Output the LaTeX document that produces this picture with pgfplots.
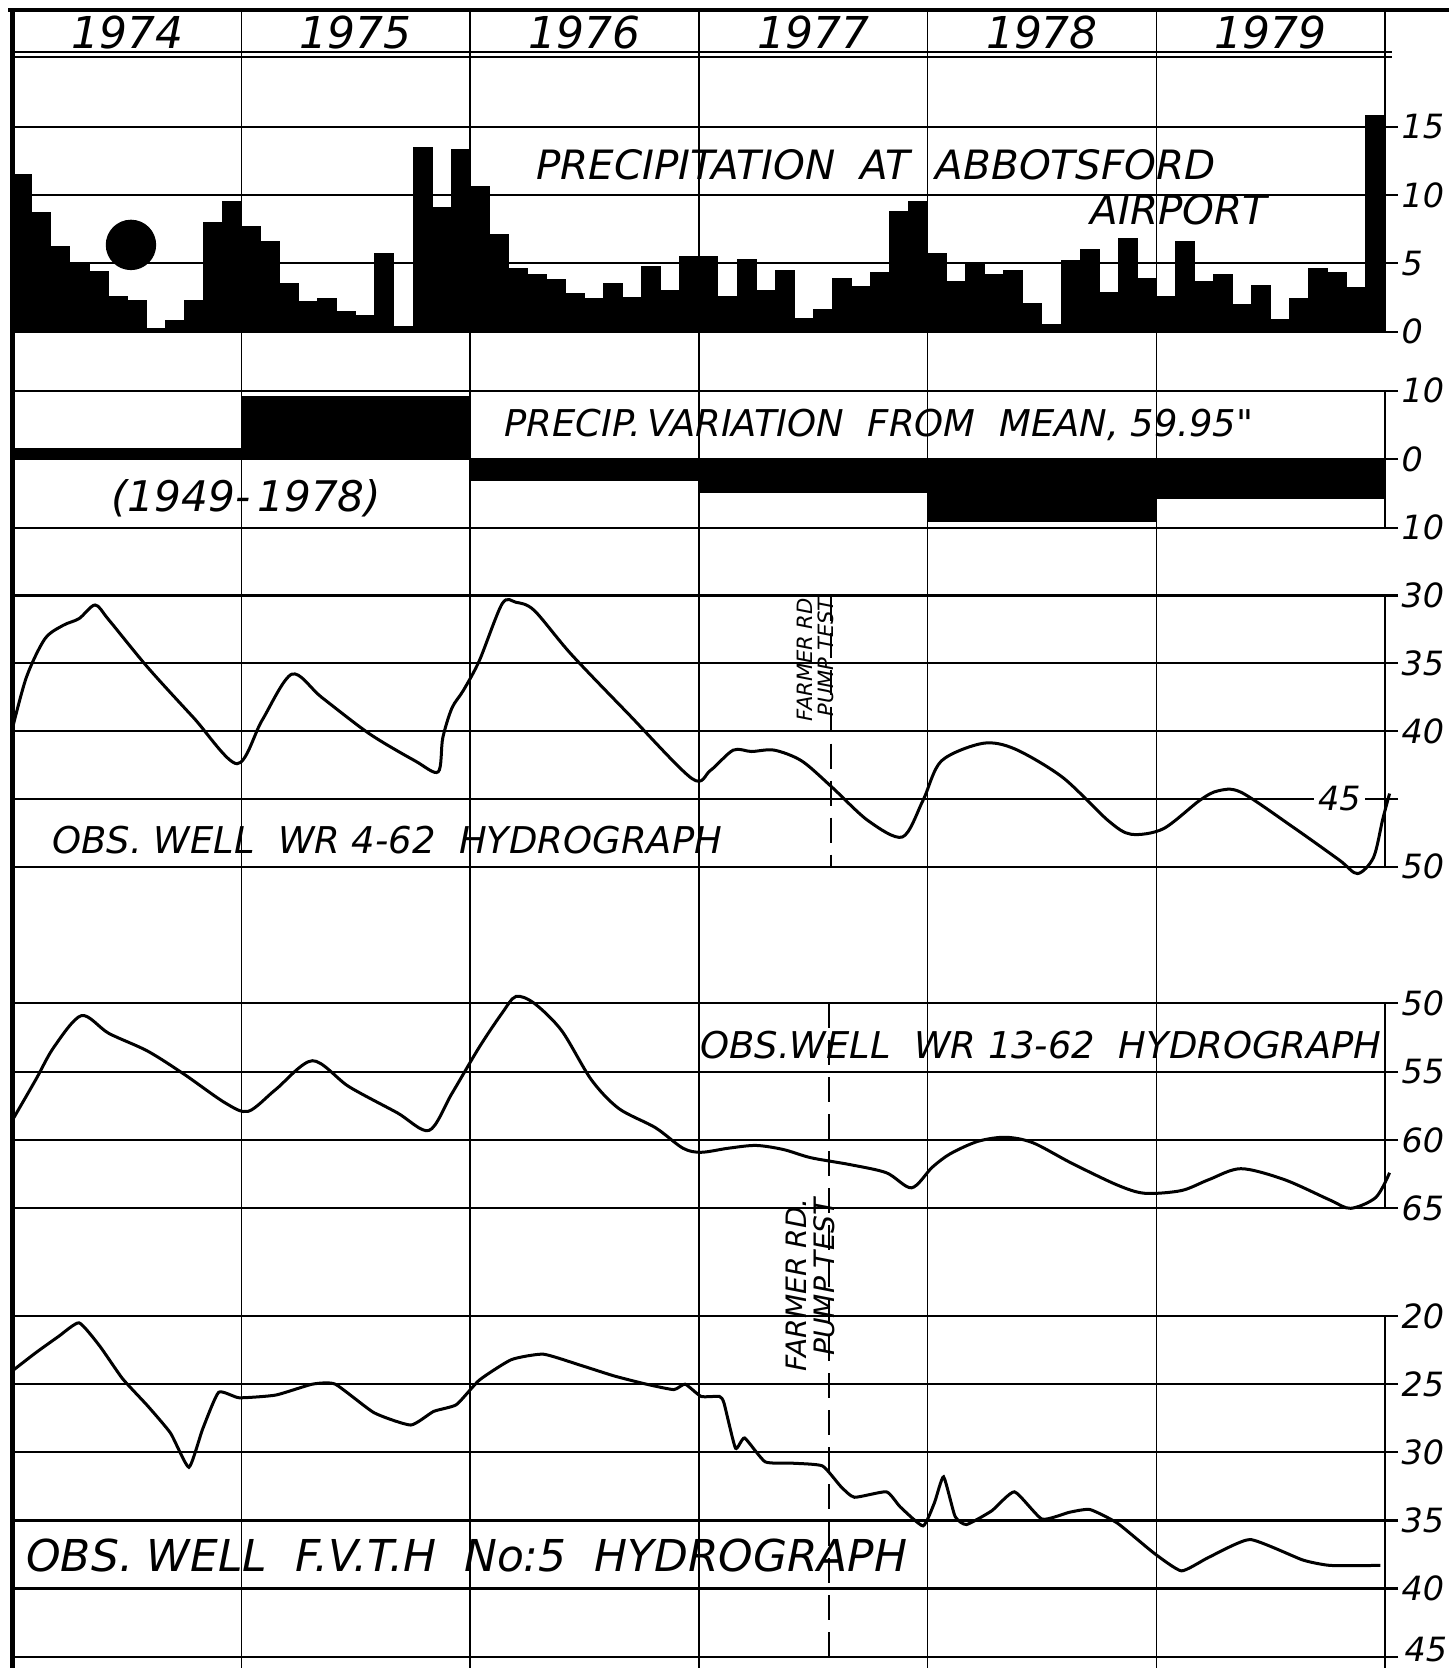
\documentclass[border=0pt]{standalone}
\usepackage{pgfplots}
\pgfplotsset{compat=1.18}
\usepackage{fontspec}
\newfontfamily\hand{DejaVu Sans}
\newcommand{\hf}[1]{\hand\itshape\fontsize{#1}{#1}\selectfont}
\newcommand{\tickfont}{\hand\itshape\fontsize{9.5}{9.5}\selectfont}
\begin{document}
\begin{tikzpicture}
\useasboundingbox (0,0) rectangle (144.9mm,-166.8mm);
\pgfplotsset{
  panel/.style={scale only axis, width=137.22mm, xmin=0, xmax=6,
    axis line style={draw=none}, xtick=\empty, ytick pos=right,
    tick align=outside, major tick length=1.3mm,
    every tick/.style={black, line width=0.22mm},
    ymajorgrids, grid style={black, line width=0.22mm},
    yticklabel style={font=\tickfont, inner sep=0.3mm},
    /pgf/number format/assume math mode=true,
    clip=false},
  curve/.style={black, line width=0.3mm, smooth, tension=0.5, mark=none},
}
% background: year verticals
\begin{axis}[scale only axis, width=137.22mm, height=165.95mm,
  at={(1.28mm,-0.85mm)}, anchor=north west,
  xmin=0, xmax=6, ymin=0, ymax=1, xtick={1,2,3,4,5}, xticklabels={},
  ytick=\empty, xmajorgrids, grid style={black, line width=0.16mm},
  major tick length=0, axis line style={draw=none}]
\addplot[draw=none] coordinates {(0,0)};
\end{axis}

% precipitation (monthly)
\begin{axis}[panel, xmin=0, xmax=72, height=20.505mm,
  at={(1.28mm,-33.17mm)}, anchor=south west,
  ymin=0, ymax=15, ytick={0,5,10,15}]
\addplot[ybar interval, fill=black, draw=black, line width=0.1mm] coordinates {
(0,11.5)(1,8.7)(2,6.2)(3,5.0)(4,4.4)(5,2.6)(6,2.25)(7,0.25)(8,0.85)(9,2.25)(10,8.0)(11,9.5)
(12,7.7)(13,6.6)(14,3.5)(15,2.2)(16,2.4)(17,1.5)(18,1.2)(19,5.7)(20,0.4)(21,13.5)(22,9.1)(23,13.3)
(24,10.6)(25,7.1)(26,4.6)(27,4.2)(28,3.8)(29,2.8)(30,2.4)(31,3.55)(32,2.5)(33,4.75)(34,3.0)(35,5.5)
(36,5.5)(37,2.6)(38,5.3)(39,3.0)(40,4.5)(41,1.0)(42,1.6)(43,3.9)(44,3.3)(45,4.35)(46,8.8)(47,9.5)
(48,5.7)(49,3.7)(50,5.0)(51,4.2)(52,4.5)(53,2.05)(54,0.5)(55,5.2)(56,6.0)(57,2.9)(58,6.8)(59,3.9)
(60,2.55)(61,6.6)(62,3.65)(63,4.2)(64,2.0)(65,3.4)(66,0.9)(67,2.4)(68,4.6)(69,4.3)(70,3.25)(71,15.8)
(72,15.8)};
\addplot[only marks, mark=*, mark size=2.45mm, black] coordinates {(6.2,6.35)};
\end{axis}

% variation from mean (yearly)
\begin{axis}[panel, height=13.70mm, at={(1.28mm,-39.06mm)}, anchor=north west,
  ymin=-10, ymax=10, ytick={-10,0,10}, yticklabels={10,0,10}]
\addplot[ybar interval, fill=black, draw=black, line width=0.1mm] coordinates {
(0,1.5)(1,9.1)(2,-3.1)(3,-4.85)(4,-9.1)(5,-5.7)(6,-5.7)};
\end{axis}

% WR 4-62
\begin{axis}[panel, height=27.13mm, at={(1.28mm,-59.55mm)}, anchor=north west,
  ymin=30, ymax=50, y dir=reverse, ytick={30,35,40,45,50}, yticklabels={30,35,40,,50}]
\addplot[curve] coordinates {
(0,39.7)(0.06,36.0)(0.14,33.2)(0.22,32.2)(0.29,31.7)(0.36,30.7)(0.42,31.8)(0.59,35.3)
(0.79,39.0)(0.98,42.4)(1.09,39.2)(1.22,35.8)(1.35,37.5)(1.56,40.2)(1.76,42.2)(1.86,43.0)
(1.88,40.5)(1.92,38.3)(1.97,37.0)(2.04,34.8)(2.14,30.6)(2.2,30.5)(2.28,31.1)(2.44,34.3)
(2.69,38.7)(2.97,43.5)(3.05,42.9)(3.15,41.4)(3.23,41.5)(3.33,41.4)(3.45,42.2)(3.58,44.1)
(3.74,46.6)(3.89,47.8)(3.98,45.1)(4.06,42.2)(4.24,40.9)(4.38,41.3)(4.59,43.4)(4.79,46.6)
(4.89,47.6)(5.03,47.2)(5.19,45.1)(5.27,44.4)(5.37,44.5)(5.60,47.1)(5.80,49.5)(5.88,50.5)
(5.95,49.3)(5.99,46.5)(6.02,44.6)};
\node[fill=white, inner sep=0.4mm, font=\tickfont] at (axis cs:5.8,45) {45};
\end{axis}

% WR 13-62
\begin{axis}[panel, height=20.5mm, at={(1.28mm,-100.33mm)}, anchor=north west,
  ymin=50, ymax=65, y dir=reverse, ytick={50,55,60,65}]
\addplot[curve] coordinates {
(0,58.5)(0.1,55.6)(0.18,53.2)(0.30,50.9)(0.42,52.2)(0.59,53.5)(0.75,55.2)(0.93,57.3)
(1.03,57.9)(1.15,56.3)(1.31,54.2)(1.47,56.1)(1.68,58.0)(1.82,59.3)(1.92,56.6)(2.04,53.2)
(2.14,50.7)(2.2,49.5)(2.28,50.0)(2.4,52.0)(2.53,55.6)(2.65,57.7)(2.81,59.1)(2.93,60.6)
(3.01,60.9)(3.13,60.6)(3.25,60.4)(3.37,60.7)(3.49,61.3)(3.66,61.8)(3.82,62.4)(3.93,63.5)
(4.02,62.0)(4.1,61.0)(4.22,60.1)(4.34,59.8)(4.46,60.2)(4.63,61.7)(4.83,63.3)(4.95,63.9)
(5.11,63.7)(5.23,62.9)(5.37,62.1)(5.56,62.9)(5.76,64.4)(5.85,65.0)(5.96,64.2)(6.02,62.4)};
\end{axis}

% F.V.T.H No 5
\begin{axis}[panel, height=34.07mm, at={(1.28mm,-131.6mm)}, anchor=north west,
  ymin=20, ymax=45, y dir=reverse, ytick={20,25,30,35,40,45},
  yticklabels={20,25,30,35,40,}]
\addplot[black, line width=0.3mm, smooth, tension=0.3, mark=none] coordinates {
(0,24.0)(0.1,22.7)(0.2,21.5)(0.29,20.5)(0.38,22.2)(0.48,24.6)(0.59,26.6)(0.69,28.6)
(0.77,31.1)(0.83,28.3)(0.9,25.6)(0.99,26.0)(1.15,25.8)(1.31,25.0)(1.41,25.0)(1.58,27.1)
(1.74,28.0)(1.84,27.0)(1.94,26.5)(2.04,24.7)(2.18,23.2)(2.32,22.8)(2.48,23.6)(2.63,24.4)
(2.77,25.0)(2.89,25.4)(2.94,25.0)(3.01,25.9)(3.09,25.9)(3.11,26.4)(3.16,29.7)(3.2,28.95)
(3.29,30.7)(3.41,30.8)(3.54,31.0)(3.62,32.5)(3.68,33.3)(3.82,32.9)(3.88,34.0)(3.98,35.4)
(4.03,33.7)(4.07,31.8)(4.12,34.7)(4.17,35.3)(4.28,34.3)(4.38,32.9)(4.50,34.9)(4.62,34.4)
(4.71,34.2)(4.83,35.2)(4.99,37.4)(5.11,38.7)(5.23,37.7)(5.41,36.4)(5.64,37.9)(5.76,38.3)
(5.98,38.3)};
\node[font=\tickfont, anchor=base west, inner sep=0.3mm] at ([xshift=1.6mm,yshift=-0.45mm]axis cs:6,45) {45};
\end{axis}

% frame, headings and labels (units: 0.1 mm, y downward)
\begin{scope}[x=0.1mm, y=-0.1mm]
\draw[line width=0.5mm] (12.8,8) -- (12.8,1668);
\draw[line width=0.45mm] (8,10) -- (1449,10);
\draw[line width=0.18mm] (12.8,52) -- (1392,52);
\draw[line width=0.18mm] (12.8,57) -- (1392,57);
\draw[line width=0.16mm] (1385,10) -- (1385,332);
\draw[line width=0.16mm] (1385,390.6) -- (1385,527.6);
\draw[line width=0.16mm] (1385,595.5) -- (1385,866.8);
\draw[line width=0.16mm] (1385,1003.3) -- (1385,1208.3);
\draw[line width=0.16mm] (1385,1316) -- (1385,1668);
\draw[line width=0.2mm, dash pattern=on 2.5mm off 1.2mm] (831,595.5) -- (831,866.8);
\draw[line width=0.2mm, dash pattern=on 2.5mm off 1.2mm] (829,1003.3) -- (829,1668);
\foreach \yr [count=\i from 0] in {1974,1975,1976,1977,1978,1979}
  \node[font=\hf{12.5}] at ({12.8+228.7*(\i+0.5)},33) {\yr};
\node[font=\hf{11.5}, anchor=west] at (524,165) {PRECIPITATION\ \ AT\ \ ABBOTSFORD};
\node[font=\hf{11.5}, anchor=west] at (1078,210) {AIRPORT};
\node[font=\hf{10.5}, anchor=west] at (492,425) {PRECIP.\,VARIATION\ \ FROM\ \ MEAN,\ 59.95"};
\node[font=\hf{12}, anchor=west] at (99,498) {(1949-\,1978)};
\node[font=\hf{10.5}, anchor=west] at (40,840) {OBS. WELL\ \ WR 4-62\ \ HYDROGRAPH};
\node[font=\hf{10.5}, anchor=east] at (1394,1045) {OBS.WELL\ \ WR 13-62\ \ HYDROGRAPH};
\node[font=\hf{12.5}, anchor=west] at (14,1555) {OBS. WELL\ \ F.V.T.H\ \ No:5\ \ HYDROGRAPH};
\node[font=\hf{6}, rotate=90, align=right, inner sep=0pt] at (815,660) {FARMER RD\\PUMP TEST};
\node[font=\hf{8}, rotate=90, align=right, inner sep=0pt] at (810,1285) {FARMER RD.\\PUMP TEST};
\end{scope}
\end{tikzpicture}
\end{document}
